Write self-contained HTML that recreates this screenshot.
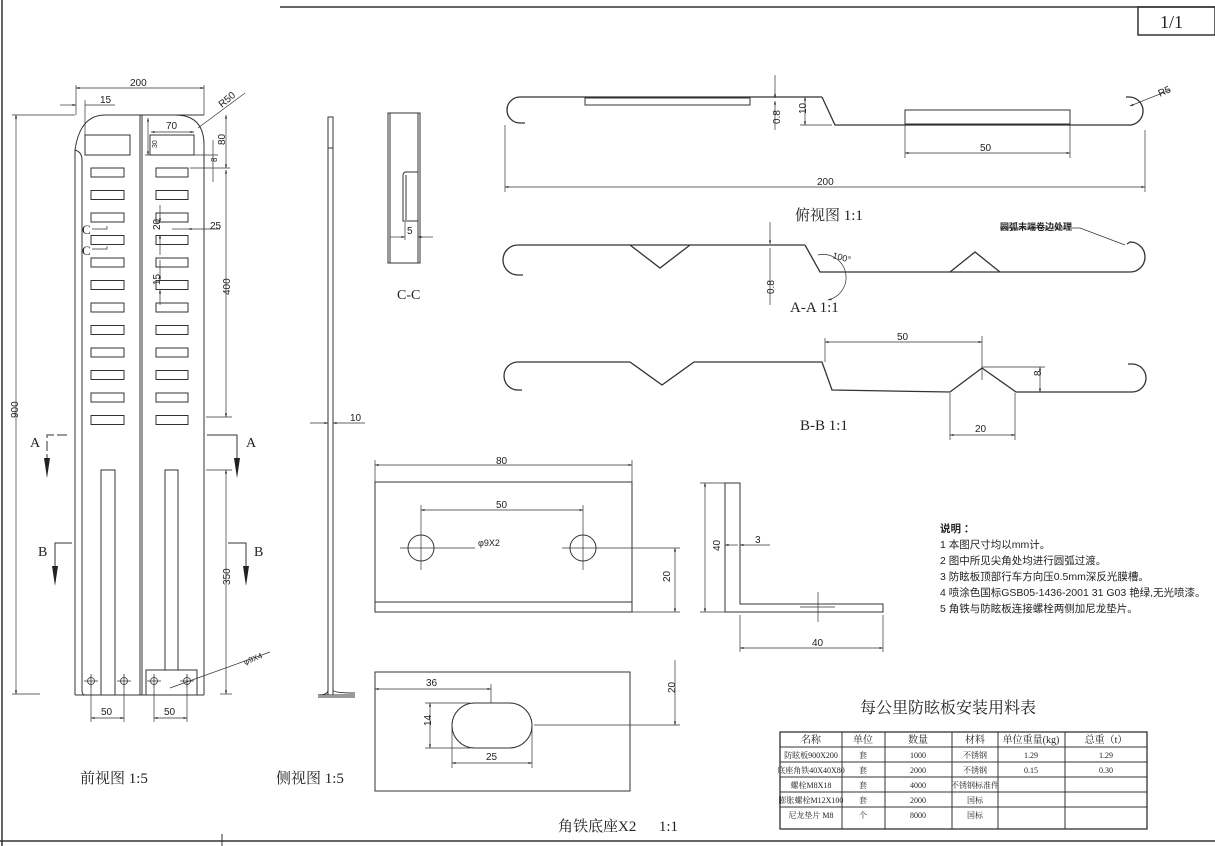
<!DOCTYPE html>
<html><head><meta charset="utf-8"><style>
body{margin:0;background:#fff}
svg{display:block}
text{font-family:"Liberation Sans","Noto Sans CJK SC",sans-serif;fill:#222}
text.s,.s text{font-family:"Liberation Serif","Noto Serif CJK SC",serif}
</style></head><body>
<svg width="1215" height="846" viewBox="0 0 1215 846" xmlns="http://www.w3.org/2000/svg">
<defs><marker id="a" viewBox="0 0 10 10" refX="10" refY="5" markerWidth="7" markerHeight="5" orient="auto-start-reverse"><path d="M0,2L10,5L0,8z" fill="#222"/></marker></defs>
<g fill="none" stroke="#333" stroke-width="1">
<line x1="280" y1="7" x2="1215" y2="7" stroke-width="1.5"/>
<line x1="2" y1="0" x2="2" y2="846" stroke-width="1.5"/>
<rect x="1138" y="7" width="77" height="28" stroke-width="1.5"/>
<line x1="0" y1="841" x2="1215" y2="841" stroke-width="1.5"/>
<line x1="222" y1="834" x2="222" y2="846"/>

<path d="M75,695 L75,150 Q80,115 105,115 L204,115"/>
<path d="M75,150 Q82,152 82,160 L82,690 Q82,695 85,695"/>
<line x1="75" y1="695" x2="204" y2="695"/>
<line x1="140" y1="115" x2="140" y2="695"/>
<line x1="142" y1="115" x2="142" y2="695"/>
<path d="M175,115 Q204,115 204,145 L204,695"/>
<rect x="85" y="135" width="45" height="20"/>
<rect x="150" y="135" width="44" height="20"/>
<g>
<rect x="91" y="168" width="33" height="9"/><rect x="156" y="168" width="32" height="9"/>
<rect x="91" y="190.5" width="33" height="9"/><rect x="156" y="190.5" width="32" height="9"/>
<rect x="91" y="213" width="33" height="9"/><rect x="156" y="213" width="32" height="9"/>
<rect x="91" y="235.5" width="33" height="9"/><rect x="156" y="235.5" width="32" height="9"/>
<rect x="91" y="258" width="33" height="9"/><rect x="156" y="258" width="32" height="9"/>
<rect x="91" y="280.5" width="33" height="9"/><rect x="156" y="280.5" width="32" height="9"/>
<rect x="91" y="303" width="33" height="9"/><rect x="156" y="303" width="32" height="9"/>
<rect x="91" y="325.5" width="33" height="9"/><rect x="156" y="325.5" width="32" height="9"/>
<rect x="91" y="348" width="33" height="9"/><rect x="156" y="348" width="32" height="9"/>
<rect x="91" y="370.5" width="33" height="9"/><rect x="156" y="370.5" width="32" height="9"/>
<rect x="91" y="393" width="33" height="9"/><rect x="156" y="393" width="32" height="9"/>
<rect x="91" y="415.5" width="33" height="9"/><rect x="156" y="415.5" width="32" height="9"/>
</g>
<rect x="101" y="470" width="14" height="225"/>
<rect x="165" y="470" width="13" height="200"/>
<rect x="146" y="670" width="51" height="25"/>
<g stroke-width="0.8">
<circle cx="91" cy="681" r="3.5"/><circle cx="124" cy="681" r="3.5"/><circle cx="154" cy="681" r="3.5"/><circle cx="187" cy="681" r="3.5"/>
<path d="M84,681h14M91,674v14M117,681h14M124,674v14M147,681h14M154,674v14M180,681h14M187,674v14"/>
</g>
<g stroke-width="0.7">
<line x1="12" y1="115" x2="75" y2="115"/><line x1="12" y1="694" x2="40" y2="694"/>
<line x1="16" y1="115" x2="16" y2="694" marker-start="url(#a)" marker-end="url(#a)"/>
<line x1="76" y1="85" x2="76" y2="115"/><line x1="204" y1="85" x2="204" y2="115"/>
<line x1="76" y1="88" x2="204" y2="88" marker-start="url(#a)" marker-end="url(#a)"/>
<line x1="85" y1="100" x2="85" y2="135"/>
<line x1="60" y1="105" x2="76" y2="105" marker-end="url(#a)"/><line x1="85" y1="105" x2="115" y2="105"/>
<line x1="151" y1="132" x2="194" y2="132" marker-start="url(#a)" marker-end="url(#a)"/>
<line x1="148" y1="118" x2="148" y2="155" marker-start="url(#a)" marker-end="url(#a)"/>
<line x1="145" y1="155" x2="218" y2="155"/>
<line x1="190" y1="168" x2="230" y2="168"/>
<line x1="226" y1="115" x2="226" y2="168" marker-start="url(#a)" marker-end="url(#a)"/>
<line x1="213" y1="140" x2="213" y2="182" />
<line x1="198" y1="128" x2="245" y2="93"/>
<line x1="226" y1="170" x2="226" y2="417" marker-start="url(#a)" marker-end="url(#a)"/>
<line x1="206" y1="417" x2="232" y2="417"/>
<line x1="160" y1="205" x2="160" y2="222" marker-end="url(#a)"/>
<line x1="160" y1="235" x2="160" y2="255" marker-start="url(#a)"/>
<line x1="160" y1="260" x2="160" y2="280" marker-end="url(#a)"/>
<line x1="160" y1="290" x2="160" y2="305" marker-start="url(#a)"/>
<line x1="172" y1="229" x2="188" y2="229"/><line x1="188" y1="229" x2="220" y2="229" marker-start="url(#a)"/>
<line x1="206" y1="470" x2="232" y2="470"/>
<line x1="226" y1="470" x2="226" y2="694" marker-start="url(#a)" marker-end="url(#a)"/>
<line x1="220" y1="694" x2="232" y2="694"/>
<line x1="170" y1="688" x2="270" y2="652"/>
<line x1="91" y1="688" x2="91" y2="722"/><line x1="124" y1="688" x2="124" y2="722"/>
<line x1="91" y1="718" x2="124" y2="718" marker-start="url(#a)" marker-end="url(#a)"/>
<line x1="154" y1="688" x2="154" y2="722"/><line x1="187" y1="688" x2="187" y2="722"/>
<line x1="154" y1="718" x2="187" y2="718" marker-start="url(#a)" marker-end="url(#a)"/>
<path d="M92,229h15v-3M92,249h15v-3"/>
</g>
<g stroke-width="1">
<path d="M67,435h-20v30" stroke-dasharray="10,3"/>
<path d="M207,435h30v30"/>
<path d="M72,543h-17v30"/>
<path d="M228,543h18v30"/>
</g>
<path d="M44,458l3,20l3,-20z M234,458l3,20l3,-20z M52,566l3,20l3,-20z M243,566l3,20l3,-20z" fill="#222" stroke="none"/>

<rect x="328" y="117" width="5" height="578"/>
<line x1="328" y1="148" x2="333" y2="148"/>
<path d="M328,690 Q328,695 318,695 L355,695 M333,690 Q333,693 355,693 M318,697h37"/>
<g stroke-width="0.7"><line x1="310" y1="423" x2="328" y2="423" marker-end="url(#a)"/><line x1="333" y1="423" x2="365" y2="423" marker-start="url(#a)"/></g>

<rect x="388" y="113" width="32" height="150"/>
<line x1="390" y1="113" x2="390" y2="263"/>
<line x1="418" y1="113" x2="418" y2="263"/>
<path d="M418,172h-12q-3,0 -3,4v45h15"/>
<path d="M406,175v45"/>
<g stroke-width="0.7"><line x1="390" y1="237" x2="405" y2="237" marker-end="url(#a)"/><line x1="418" y1="237" x2="433" y2="237" marker-start="url(#a)"/><line x1="405" y1="222" x2="405" y2="240"/></g>

<g stroke-width="1.3">
<path d="M822,97 L520,97 A12,12 0 0 0 520,123 L525,123"/>
<path d="M822,97 L835,125 L1128,125 A13,13 0 0 0 1130,97 L1126,97"/>
</g>
<rect x="585" y="98" width="165" height="7"/>
<rect x="905" y="110" width="165" height="14"/>
<g stroke-width="0.7">
<line x1="775" y1="75" x2="775" y2="98" marker-end="url(#a)"/><line x1="775" y1="101" x2="775" y2="130" marker-start="url(#a)"/>
<line x1="805" y1="97" x2="805" y2="125" marker-start="url(#a)" marker-end="url(#a)"/>
<line x1="800" y1="125" x2="832" y2="125"/>
<line x1="905" y1="124" x2="905" y2="158"/><line x1="1070" y1="124" x2="1070" y2="158"/>
<line x1="905" y1="153" x2="1070" y2="153" marker-start="url(#a)" marker-end="url(#a)"/>
<line x1="505" y1="125" x2="505" y2="192"/><line x1="1145" y1="130" x2="1145" y2="192"/>
<line x1="505" y1="187" x2="1145" y2="187" marker-start="url(#a)" marker-end="url(#a)"/>
<line x1="1130" y1="106" x2="1170" y2="90" marker-start="url(#a)"/>
</g>

<g stroke-width="1.3">
<path d="M805,245 L518,245 A13,13 0 0 0 518,275 L523,275"/>
<path d="M630,245 L660,268 L690,245"/>
<path d="M805,245 L820,272 L1130,272 A15,15 0 0 0 1130,242 L1127,244"/>
<path d="M950,272 L975,252 L1000,272"/>
</g>
<g stroke-width="0.7">
<line x1="770" y1="222" x2="770" y2="244" marker-end="url(#a)"/><line x1="770" y1="248" x2="770" y2="305"/>
<path d="M818,255 A18,18 0 1 1 828,300" marker-end="url(#a)"/>
<path d="M1125,245 L1080,228 L1000,228"/>
</g>

<g stroke-width="1.3">
<path d="M630,362 L518,362 A14,14 0 0 0 518,390 L522,390"/>
<path d="M630,362 L662,385 L694,362 L822,362 L832,390 L950,392 L982,368 L1016,392 L1132,392 A14,14 0 0 0 1132,364 L1128,364"/>
</g>
<g stroke-width="0.7">
<line x1="825" y1="338" x2="825" y2="362"/><line x1="982" y1="336" x2="982" y2="380"/>
<line x1="825" y1="342" x2="982" y2="342" marker-start="url(#a)" marker-end="url(#a)"/>
<line x1="982" y1="367" x2="1045" y2="367"/><line x1="1018" y1="392" x2="1045" y2="392"/>
<line x1="1040" y1="367" x2="1040" y2="392" marker-start="url(#a)" marker-end="url(#a)"/>
<line x1="950" y1="393" x2="950" y2="440"/><line x1="1015" y1="393" x2="1015" y2="440"/>
<line x1="950" y1="435" x2="1015" y2="435" marker-start="url(#a)" marker-end="url(#a)"/>
</g>

<rect x="375" y="482" width="257" height="130"/>
<line x1="375" y1="602" x2="632" y2="602"/>
<circle cx="421" cy="548" r="13"/><circle cx="583" cy="548" r="13"/>
<g stroke-width="0.7">
<line x1="375" y1="460" x2="375" y2="482"/><line x1="632" y1="460" x2="632" y2="482"/>
<line x1="375" y1="465" x2="632" y2="465" marker-start="url(#a)" marker-end="url(#a)"/>
<line x1="421" y1="505" x2="421" y2="570"/><line x1="583" y1="505" x2="583" y2="570"/>
<line x1="421" y1="510" x2="583" y2="510" marker-start="url(#a)" marker-end="url(#a)"/>
<line x1="400" y1="548" x2="475" y2="548"/><line x1="562" y1="548" x2="680" y2="548"/>
<line x1="632" y1="612" x2="680" y2="612"/>
<line x1="675" y1="548" x2="675" y2="612" marker-start="url(#a)" marker-end="url(#a)"/>
</g>
<!-- second plate -->
<rect x="375" y="672" width="255" height="119"/>
<rect x="452" y="703" width="80" height="45" rx="22.5"/>
<g stroke-width="0.7">
<line x1="375" y1="689" x2="491" y2="689" marker-start="url(#a)" marker-end="url(#a)"/>
<line x1="491" y1="684" x2="491" y2="703"/>
<line x1="534" y1="725" x2="680" y2="725"/>
<line x1="675" y1="660" x2="675" y2="725" marker-end="url(#a)"/>
<line x1="425" y1="703" x2="470" y2="703"/><line x1="425" y1="748" x2="470" y2="748"/>
<line x1="430" y1="703" x2="430" y2="748" marker-start="url(#a)" marker-end="url(#a)"/>
<line x1="452" y1="725" x2="452" y2="768"/><line x1="532" y1="725" x2="532" y2="768"/>
<line x1="452" y1="763" x2="532" y2="763" marker-start="url(#a)" marker-end="url(#a)"/>
</g>
<path d="M725,483 L740,483 L740,604 L883,604 L883,612 L725,612 Z"/>
<g stroke-width="0.7">
<line x1="700" y1="483" x2="725" y2="483"/><line x1="700" y1="612" x2="725" y2="612"/>
<line x1="705" y1="483" x2="705" y2="612" marker-start="url(#a)" marker-end="url(#a)"/>
<line x1="738" y1="545" x2="725" y2="545" marker-end="url(#a)"/><line x1="740" y1="545" x2="770" y2="545" marker-start="url(#a)"/>
<line x1="818" y1="592" x2="818" y2="622"/><line x1="800" y1="607" x2="835" y2="607"/>
<line x1="740" y1="615" x2="740" y2="652"/><line x1="883" y1="615" x2="883" y2="652"/>
<line x1="740" y1="648" x2="883" y2="648" marker-start="url(#a)" marker-end="url(#a)"/>
</g>

<rect x="780" y="732" width="367" height="97" stroke-width="1.3"/>
<path d="M780,747H1147M780,762H1147M780,777H1147M780,792H1147M780,807H1147M842,732V829M885,732V829M952,732V829M998,732V829M1065,732V829"/>
</g>

<g font-size="10">
<text x="1160" y="28" class="s" font-size="18">1/1</text>
<text x="130" y="86">200</text>
<text x="100" y="103">15</text>
<text x="222" y="108" transform="rotate(-40 222 108)">R50</text>
<text x="166" y="129">70</text>
<text x="153" y="152" font-size="7" transform="rotate(-90 153 148)">30</text>
<text x="221" y="149" transform="rotate(-90 221 145)">80</text>
<text x="214" y="165" font-size="8" transform="rotate(-90 214 162)">8</text>
<text x="210" y="229">25</text>
<text x="155" y="235" transform="rotate(-90 155 230)">20</text>
<text x="155" y="290" transform="rotate(-90 155 285)">15</text>
<text x="225" y="300" transform="rotate(-90 225 295)">400</text>
<text x="225" y="590" transform="rotate(-90 225 585)">350</text>
<text x="12" y="424" transform="rotate(-90 12 418)">900</text>
<text x="245" y="665" font-size="8" transform="rotate(-22 245 665)">φ9X4</text>
<text x="101" y="715">50</text>
<text x="164" y="715">50</text>
<text x="350" y="421">10</text>
<text x="407" y="234">5</text>
<text x="776" y="128" transform="rotate(-90 776 124)">0.8</text>
<text x="802" y="118" transform="rotate(-90 802 114)">10</text>
<text x="1160" y="97" transform="rotate(-25 1160 97)">R5</text>
<text x="980" y="151">50</text>
<text x="817" y="185">200</text>
<text x="770" y="298" transform="rotate(-90 770 294)">0.8</text>
<text x="832" y="258" font-size="9" transform="rotate(15 832 258)">100°</text>
<text x="897" y="340">50</text>
<text x="1041" y="384" transform="rotate(-90 1037 380)">8</text>
<text x="975" y="432">20</text>
<text x="496" y="464">80</text>
<text x="496" y="508">50</text>
<text x="478" y="546" font-size="9">φ9X2</text>
<text x="666" y="586" transform="rotate(-90 666 582)">20</text>
<text x="426" y="686">36</text>
<text x="671" y="697" transform="rotate(-90 671 693)">20</text>
<text x="427" y="730" transform="rotate(-90 427 726)">14</text>
<text x="486" y="760">25</text>
<text x="716" y="555" transform="rotate(-90 716 551)">40</text>
<text x="755" y="543">3</text>
<text x="812" y="646">40</text>
</g>
<g class="s" font-size="14">
<text x="30" y="447">A</text><text x="246" y="447">A</text>
<text x="38" y="556">B</text><text x="254" y="556">B</text>
<text x="82" y="234" font-size="13">C</text><text x="82" y="255" font-size="13">C</text>
<text x="397" y="299">C-C</text>
</g>
<g class="s" font-size="15">
<text x="80" y="783">前视图  1:5</text>
<text x="276" y="783">侧视图  1:5</text>
<text x="558" y="831" xml:space="preserve">角铁底座X2      1:1</text>
<text x="795" y="220">俯视图 1:1</text>
<text x="790" y="312">A-A 1:1</text>
<text x="800" y="430">B-B 1:1</text>
<text x="860" y="713" font-size="16">每公里防眩板安装用料表</text>
</g>
<text x="1000" y="230" font-size="9" font-weight="bold">圆弧末端卷边处理</text>
<g font-size="10.5">
<text x="940" y="532" font-weight="bold">说明 ：</text>
<text x="940" y="548">1 本图尺寸均以mm计。</text>
<text x="940" y="564">2 图中所见尖角处均进行圆弧过渡。</text>
<text x="940" y="580">3 防眩板顶部行车方向压0.5mm深反光膜槽。</text>
<text x="940" y="596">4 喷涂色国标GSB05-1436-2001 31 G03 艳绿,无光喷漆。</text>
<text x="940" y="612">5 角铁与防眩板连接螺栓两侧加尼龙垫片。</text>
</g>
<g font-size="8" text-anchor="middle" class="s">
<text x="811" y="743" font-size="10">名称</text><text x="863" y="743" font-size="10">单位</text><text x="918" y="743" font-size="10">数量</text><text x="975" y="743" font-size="10">材料</text><text x="1031" y="743" font-size="10">单位重量(kg)</text><text x="1106" y="743" font-size="10">总重（t）</text>
<text x="811" y="758">防眩板900X200</text><text x="863" y="758">套</text><text x="918" y="758">1000</text><text x="975" y="758">不锈钢</text><text x="1031" y="758">1.29</text><text x="1106" y="758">1.29</text>
<text x="811" y="773">底座角铁40X40X80</text><text x="863" y="773">套</text><text x="918" y="773">2000</text><text x="975" y="773">不锈钢</text><text x="1031" y="773">0.15</text><text x="1106" y="773">0.30</text>
<text x="811" y="788">螺栓M8X18</text><text x="863" y="788">套</text><text x="918" y="788">4000</text><text x="975" y="788">不锈钢标准件</text>
<text x="811" y="803">膨胀螺栓M12X100</text><text x="863" y="803">套</text><text x="918" y="803">2000</text><text x="975" y="803">国标</text>
<text x="811" y="818">尼龙垫片  M8</text><text x="863" y="818">个</text><text x="918" y="818">8000</text><text x="975" y="818">国标</text>
</g>
</svg>
</body></html>
